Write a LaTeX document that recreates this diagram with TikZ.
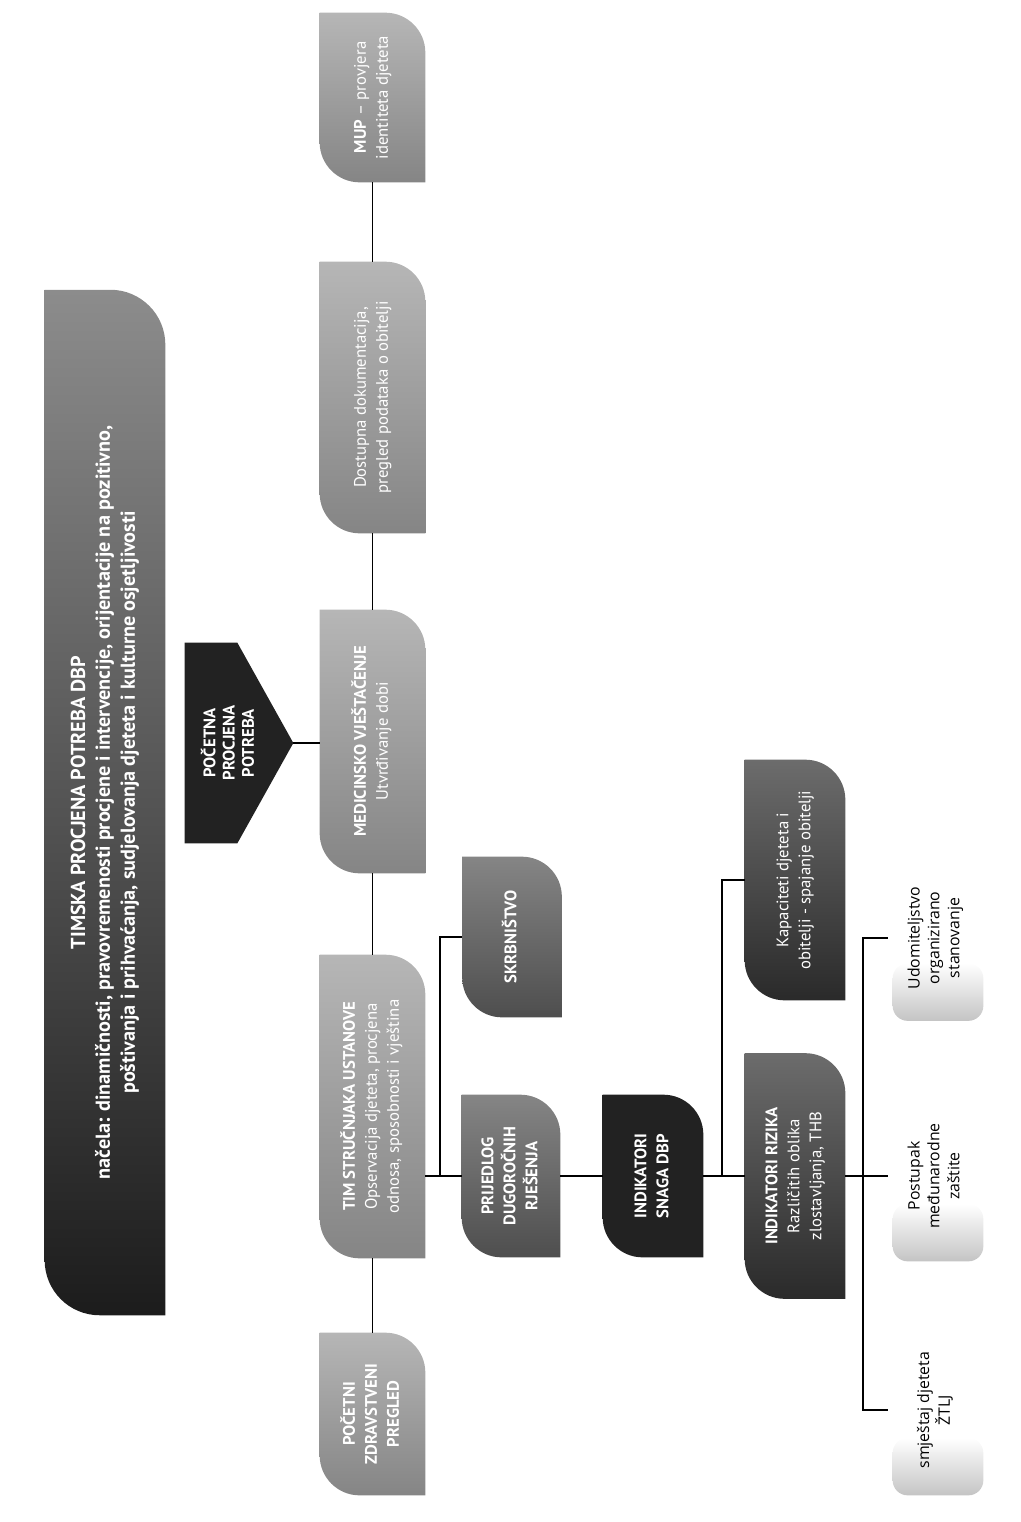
\documentclass[tikz,border=0pt]{standalone}
\usepackage{fontspec}
\setmainfont{PT Sans}
\newfontfamily\leaffont{Open Sans}
\usepackage{graphicx}
\usetikzlibrary{calc,backgrounds}

\definecolor{titletop}{HTML}{8C8C8C}
\definecolor{titlebot}{HTML}{1C1C1C}
\definecolor{paletop}{HTML}{B6B6B6}
\definecolor{palebot}{HTML}{858585}
\definecolor{midtop}{HTML}{858585}
\definecolor{midbot}{HTML}{4E4E4E}
\definecolor{darktop}{HTML}{6C6C6C}
\definecolor{darkbot}{HTML}{2A2A2A}
\definecolor{ink}{HTML}{222222}
\definecolor{leafgray}{HTML}{C4C4C4}

\newcommand{\vt}[1]{\rotatebox{90}{\begin{tabular}{@{}c@{}}#1\end{tabular}}}
\newcommand{\cardfill}[4]{%
  \shade[top color=#3, bottom color=#4] (#1.north west)
    -- ([xshift=-#2]#1.north east) arc[start angle=90, end angle=0, radius=#2]
    -- (#1.south east)
    -- ([xshift=#2]#1.south west) arc[start angle=270, end angle=180, radius=#2]
    -- cycle;}
\newcommand{\leaffill}[1]{%
  \shade[top color=white, bottom color=leafgray, rounded corners=0.3cm]
    ([xshift=0.1cm]#1.south west) rectangle ([yshift=1.15cm]#1.south east);}

\begin{document}
\begin{tikzpicture}[x=0.02cm, y=-0.02cm,
    card/.style={rectangle, inner sep=0pt, text=white, align=center,
      font=\fontsize{9.5}{12.5}\selectfont},
    leaf/.style={rectangle, inner sep=0pt, text=black,
      font=\leaffont\fontsize{9}{11.3}\selectfont},
    link/.style={draw=black, line width=0.8pt}]
    \useasboundingbox (0,0) rectangle (1021,1522);

    \node (title) [card, minimum width=2.4cm, minimum height=20.5cm,
      font=\fontsize{11.5}{14.2}\selectfont\bfseries] at (105,802.5)
      {\vt{TIMSKA PROCJENA POTREBA DBP\\
      načela: dinamičnosti, pravovremenosti procjene i intervencije, orijentacije na pozitivno,\\
      poštivanja i prihvaćanja, sudjelovanja djeteta i kulturne osjetljivosti}};
    \node (start) [card, minimum width=2.16cm, minimum height=4cm,
      font=\fontsize{9.5}{11}\selectfont\bfseries] at (239,743)
      {\vt{POČETNA\\ PROCJENA\\ POTREBA}\hspace{0.35cm}};

    \node (mup) [card, minimum width=2.1cm, minimum height=3.38cm] at (372.5,97.5)
      {\vt{\textbf{MUP} – provjera\\ identiteta djeteta}};
    \node (dost) [card, minimum width=2.1cm, minimum height=5.42cm] at (372.5,397.5)
      {\vt{Dostupna dokumentacija,\\ pregled podataka o obitelji}};
    \node (med) [card, minimum width=2.1cm, minimum height=5.26cm] at (372.5,741.5)
      {\vt{\textbf{MEDICINSKO VJEŠTAČENJE}\\ Utvrđivanje dobi}};
    \node (tim) [card, minimum width=2.1cm, minimum height=6.06cm] at (372.5,1106.5)
      {\vt{\textbf{TIM STRUČNJAKA USTANOVE}\\ Opservacija djeteta, procjena\\ odnosa, sposobnosti i vještina}};
    \node (poc) [card, minimum width=2.1cm, minimum height=3.24cm] at (372.5,1414)
      {\vt{\textbf{POČETNI}\\ \textbf{ZDRAVSTVENI}\\ \textbf{PREGLED}}};

    \node (skrb) [card, minimum width=1.98cm, minimum height=3.2cm] at (512,937)
      {\vt{\textbf{SKRBNIŠTVO}}};
    \node (prij) [card, minimum width=1.96cm, minimum height=3.24cm] at (511,1176)
      {\vt{\textbf{PRIJEDLOG}\\ \textbf{DUGOROČNIH}\\ \textbf{RJEŠENJA}}};
    \node (snaga) [card, minimum width=2cm, minimum height=3.24cm] at (653,1176)
      {\vt{\textbf{INDIKATORI}\\ \textbf{SNAGA DBP}}};
    \node (rizika) [card, minimum width=2cm, minimum height=4.9cm] at (795,1176)
      {\vt{\textbf{INDIKATORI RIZIKA}\\ Različitih oblika\\ zlostavljanja, THB}};
    \node (kap) [card, minimum width=2cm, minimum height=4.8cm] at (795,880)
      {\vt{Kapaciteti djeteta i\\ obitelji - spajanje obitelji}};

    \node (udom) [leaf, minimum width=1.9cm, minimum height=3.3cm] at (935.5,938)
      {\vt{Udomiteljstvo\\ organizirano\\ stanovanje}};
    \node (post) [leaf, minimum width=1.9cm, minimum height=3.4cm] at (935.5,1176)
      {\vt{Postupak\\ međunarodne\\ zaštite}};
    \node (ztlj) [leaf, minimum width=1.9cm, minimum height=3.4cm] at (935.5,1410)
      {\vt{smještaj djeteta\\ ŽTLJ}};

    \coordinate (tj) at (440,1176);
    \coordinate (rj) at (722,1176);
    \coordinate (lj) at (863,1176);

    \begin{scope}[on background layer]
        \cardfill{title}{1.1cm}{titletop}{titlebot}
        \fill[ink] (start.north west) -- ([xshift=-1.12cm]start.north east) -- (start.east)
          -- ([xshift=-1.12cm]start.south east) -- (start.south west) -- cycle;
        \cardfill{mup}{0.8cm}{paletop}{palebot}
        \cardfill{dost}{0.8cm}{paletop}{palebot}
        \cardfill{med}{0.8cm}{paletop}{palebot}
        \cardfill{tim}{0.8cm}{paletop}{palebot}
        \cardfill{poc}{0.8cm}{paletop}{palebot}
        \cardfill{skrb}{0.8cm}{midtop}{midbot}
        \cardfill{prij}{0.8cm}{midtop}{midbot}
        \cardfill{snaga}{0.8cm}{ink}{ink}
        \cardfill{rizika}{0.8cm}{darktop}{darkbot}
        \cardfill{kap}{0.8cm}{darktop}{darkbot}
        \leaffill{udom}
        \leaffill{post}
        \leaffill{ztlj}
    \end{scope}

    \draw [link] (mup) -- (dost);
    \draw [link] (dost) -- (med);
    \draw [link] (med) -- (tim);
    \draw [link] (tim) -- (poc);
    \draw [link] (start.east) -- (start.east -| med.west);
    \draw [link] (tim.east |- tj) -- (prij.west);
    \draw [link] (tj) |- (skrb.west);
    \draw [link] (prij) -- (snaga);
    \draw [link] (snaga) -- (rizika);
    \draw [link] (rj) |- (kap.west);
    \draw [link] (rizika) -- (post);
    \draw [link] (udom.west) -| (lj) |- (ztlj.west);

\end{tikzpicture}
\end{document}
